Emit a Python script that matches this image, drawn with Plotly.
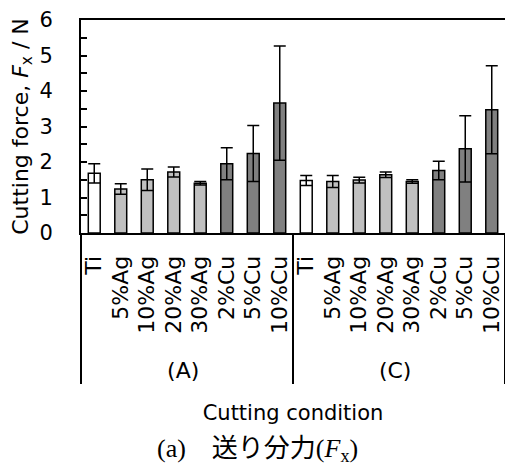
import plotly.graph_objects as go

groups = ["(A)"] * 8 + ["(C)"] * 8
materials = ["Ti", "5%Ag", "10%Ag", "20%Ag", "30%Ag", "2%Cu", "5%Cu", "10%Cu"] * 2
force = [1.68, 1.24, 1.50, 1.72, 1.40, 1.95, 2.24, 3.66,
         1.48, 1.45, 1.49, 1.64, 1.45, 1.76, 2.37, 3.47]
error = [0.27, 0.15, 0.30, 0.14, 0.05, 0.45, 0.79, 1.61,
         0.14, 0.17, 0.08, 0.08, 0.05, 0.26, 0.93, 1.24]

def fill_for(m):
    if m == "Ti":
        return "#ffffff"
    if m.endswith("Ag"):
        return "#c0c0c0"
    return "#808080"

colors = [fill_for(m) for m in materials]
# leading non-breaking spaces only pad the label box (pushes group labels down)
labels = ["\u00a0\u00a0" + m for m in materials]

FONT = "DejaVu Sans"

fig = go.Figure(go.Bar(
    x=[groups, labels],
    y=force,
    marker=dict(color=colors, line=dict(color="black", width=1.5)),
    error_y=dict(type="data", array=error, visible=True, color="black",
                 thickness=1.5, width=6),
    showlegend=False,
))

fig.update_layout(
    width=505, height=465,
    margin=dict(l=81, r=0, t=20, b=232, autoexpand=False),
    plot_bgcolor="white", paper_bgcolor="white",
    bargap=0.55,
    font=dict(family=FONT, size=20, color="black"),
    xaxis=dict(
        type="multicategory", tickangle=-90, automargin=False,
        showline=True, linecolor="black", linewidth=2, mirror=True,
        ticks="", showdividers=True, dividercolor="black", dividerwidth=2,
        ticklabelstandoff=12,
        tickfont=dict(family=FONT, size=22, color="black"),
        title=dict(text="Cutting condition", font=dict(family=FONT, size=21), standoff=24),
    ),
    yaxis=dict(
        range=[0, 6], dtick=1, showgrid=False, zeroline=False, automargin=False,
        showline=True, linecolor="black", linewidth=2,
        ticks="inside", ticklen=6, tickwidth=1.5, tickcolor="black",
        minor=dict(dtick=0.5, ticks="inside", ticklen=6, tickwidth=1.5, tickcolor="black"),
        ticklabelstandoff=22,
        tickfont=dict(family=FONT, size=21, color="black"),
        title=dict(text="Cutting force, <i>F</i><sub>x</sub> / N",
                   font=dict(family=FONT, size=22), standoff=5),
    ),
)

fig.add_annotation(
    text="(a)\u3000送り分力(<i>F</i><sub>x</sub>)",
    xref="paper", yref="paper", x=0.417, y=-1.02, xanchor="center", yanchor="middle",
    showarrow=False,
    font=dict(family="Liberation Serif, Noto Sans CJK JP", size=26, color="black"),
)

fig.write_html("out.html", config={"displayModeBar": False},
               post_script="document.body.style.margin='0';document.documentElement.style.overflow='hidden';")
